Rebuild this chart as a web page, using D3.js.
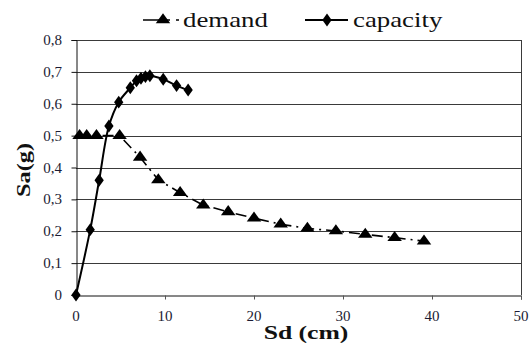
<!DOCTYPE html>
<html><head><meta charset="utf-8">
<script src="https://cdn.jsdelivr.net/npm/d3@7"></script>
<style>body{margin:0;background:#fff}svg{display:block}
text{font-family:"Liberation Serif","DejaVu Serif",serif}</style>
</head><body>
<svg id="c" width="532" height="345"></svg>
<script>
const demandX = [0.4, 1.2, 2.3, 4.9, 7.2, 9.25, 11.7, 14.3, 17.1, 20.0, 23.0, 26.0, 29.2, 32.5, 35.8, 39.1];
const demandY = [0.5, 0.5, 0.5, 0.5, 0.432, 0.361, 0.321, 0.282, 0.261, 0.241, 0.222, 0.209, 0.201, 0.19, 0.18, 0.169];
const capacityX = [0, 1.6, 2.6, 3.7, 4.8, 6.1, 6.8, 7.3, 7.8, 8.3, 9.8, 11.3, 12.6];
const capacityY = [0, 0.205, 0.36, 0.53, 0.605, 0.65, 0.672, 0.68, 0.685, 0.688, 0.677, 0.657, 0.643];
const xTicks = [0, 10, 20, 30, 40, 50];
const yTicks = [0, 0.1, 0.2, 0.3, 0.4, 0.5, 0.6, 0.7, 0.8];
const seriesNames = ["demand", "capacity"];
const xTitle = "Sd (cm)", yTitle = "Sa(g)";

const svg = d3.select("#c");
const L = 76, R = 521, T = 40, B = 295;
const x = d3.scaleLinear().domain([0, 50]).range([L, R]);
const y = d3.scaleLinear().domain([0, 0.8]).range([B, T]);
function txt(g, str, px, py, size, anchor, weight, fill, sx) {
  return g.append("text").attr("transform", `translate(${px},${py}) scale(${sx || 1},1)`)
    .attr("font-size", size).attr("text-anchor", anchor || "start")
    .attr("font-weight", weight || "normal").attr("fill", fill || "#1b1b33").text(str);
}

// gridlines
svg.append("g").selectAll("line").data(yTicks.filter(d => d > 0)).join("line")
  .attr("x1", L).attr("x2", R).attr("y1", d => Math.round(y(d)) + 0.5).attr("y2", d => Math.round(y(d)) + 0.5)
  .attr("stroke", "#3a3a3a").attr("stroke-width", 1);
svg.append("line").attr("x1", R + 0.5).attr("x2", R + 0.5).attr("y1", T).attr("y2", B).attr("stroke", "#3a3a3a");

// axes
const fmt = d => d === 0 ? "0" : d3.format(".1f")(d).replace(".", ",");
const ya = svg.append("g").attr("transform", `translate(${L + 0.5},0)`)
  .call(d3.axisLeft(y).tickValues(yTicks).tickSize(5).tickFormat(""));
ya.select(".domain").attr("stroke", "#111");
ya.selectAll(".tick line").attr("stroke", "#111");
const xa = svg.append("g").attr("transform", `translate(0,${B + 0.5})`)
  .call(d3.axisBottom(x).tickValues(xTicks).tickSize(4).tickFormat(""));
xa.select(".domain").attr("stroke", "#111");
xa.selectAll(".tick line").attr("stroke", "#555");

const lab = svg.append("g");
yTicks.forEach(d => txt(lab, fmt(d), 62, y(d) + 5, 15, "end"));
xTicks.forEach(d => txt(lab, String(d), x(d), 321, 15, "middle"));
txt(lab, xTitle, 306, 339, 19, "middle", "bold", "#111", 1.35);
lab.append("text").attr("transform", `translate(30,170) rotate(-90) scale(1.35,1)`)
  .attr("font-size", 18).attr("font-weight", "bold").attr("fill", "#111")
  .attr("text-anchor", "middle").text(yTitle);

// series
const demand = demandX.map((v, i) => [v, demandY[i]]);
const capacity = capacityX.map((v, i) => [v, capacityY[i]]);
const line = d3.line().x(d => x(d[0])).y(d => y(d[1]));
const tri = d3.symbol().type(d3.symbolTriangle).size(58)();
const dia = d3.symbol().type(d3.symbolDiamond).size(48)();

svg.append("path").datum(demand).attr("d", line).attr("fill", "none").attr("stroke", "#000")
  .attr("stroke-width", 1.6).attr("stroke-dasharray", "11,5,2,5");
svg.append("g").selectAll("path").data(demand).join("path").attr("d", tri)
  .attr("transform", d => `translate(${x(d[0])},${y(d[1])}) scale(1.25,1)`).attr("fill", "#000");

svg.append("path").datum(capacity).attr("d", line.curve(d3.curveCatmullRom)).attr("fill", "none")
  .attr("stroke", "#000").attr("stroke-width", 2);
svg.append("g").selectAll("path").data(capacity).join("path").attr("d", dia)
  .attr("transform", d => `translate(${x(d[0])},${y(d[1])}) scale(1.25,1)`).attr("fill", "#000");

// legend
const lg = svg.append("g");
lg.append("line").attr("x1", 143).attr("x2", 179).attr("y1", 20).attr("y2", 20).attr("stroke", "#000")
  .attr("stroke-width", 1.6).attr("stroke-dasharray", "18,6,3,6");
lg.append("path").attr("d", tri).attr("transform", "translate(163,20) scale(1.25,1)");
txt(lg, seriesNames[0], 183, 27, 22, "start", "normal", "#111", 1.22);
lg.append("line").attr("x1", 305).attr("x2", 348).attr("y1", 20).attr("y2", 20).attr("stroke", "#000").attr("stroke-width", 2);
lg.append("path").attr("d", dia).attr("transform", "translate(327,20) scale(1.25,1)");
txt(lg, seriesNames[1], 353, 27, 22, "start", "normal", "#111", 1.22);
</script>
</body></html>
